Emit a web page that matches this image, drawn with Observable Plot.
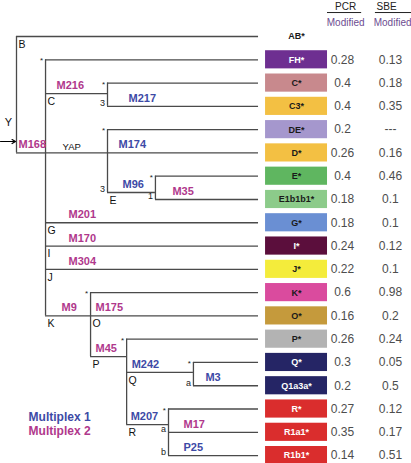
<!DOCTYPE html>
<html><head><meta charset="utf-8">
<script src="https://cdn.jsdelivr.net/npm/d3@7"></script>
<script src="https://cdn.jsdelivr.net/npm/@observablehq/plot@0.6"></script>
<style>html,body{margin:0;padding:0;background:#fff;}</style>
</head><body><div id="chart"></div>
<script>
// ---------------- DATA ----------------
const leafNames = ["AB*","FH*","C*","C3*","DE*","D*","E*","E1b1b1*","G*","I*","J*","K*","O*","P*","Q*","Q1a3a*","R*","R1a1*","R1b1*"];
const leafParent = ["Y","M168","C","C","YAP","YAP","E","E","M168","M168","M168","K","K","P","Q","Q","R","R","R"];
const leafColors = [null,"#6e2f91","#c8898d","#f3c043","#a597cd","#f3c043","#5fb660","#8ccb8a","#6a8fd3","#5b0e3c","#f4ec3b","#da4b9e","#c59a3c","#b3b3b3","#252565","#252565","#da2d2d","#da2d2d","#da2d2d"];
const whiteTextLeaves = ["FH*","I*","Q*","Q1a3a*","R*","R1a1*","R1b1*"];
const pcrValues = [null,0.28,0.4,0.4,0.2,0.26,0.4,0.18,0.18,0.24,0.22,0.6,0.16,0.26,0.3,0.2,0.27,0.35,0.14];
const sbeValues = [null,0.13,0.18,0.35,"---",0.16,0.46,0.1,0.1,0.12,0.1,0.98,0.2,0.24,0.05,0.5,0.12,0.17,0.51];

// internal nodes of the tree (depth in branch units, leaf tips at 10; row = vertical slot)
const nodeNames = ["Y","M168","C","YAP","E","K","P","Q","R"];
const nodeParent = [null,"Y","M168","M168","YAP","M168","K","P","P"];
const nodeDepth = [0,1.2,3.76,3.76,5.74,3.06,4.55,7.31,6.28];
const nodeRow = [2.5,5,2.45,5,6.7,12,13.75,14.43,16.67];

// markers on branches (target = node/leaf at branch end), multiplex 1 / 2 (0 = black)
const markerTargets = ["M168","C","C3*","YAP","D*","E","E1b1b1*","G*","I*","J*","K","O*","P","Q","Q1a3a*","R","R1a1*","R1b1*"];
const markerNames = ["M168","M216","M217","YAP","M174","M96","M35","M201","M170","M304","M9","M175","M45","M242","M3","M207","M17","P25"];
const markerPlex = [2,2,1,0,1,1,2,2,2,2,2,2,2,1,1,1,2,1];

// clade letters below branches
const cladeTargets = ["AB*","C","E","G*","I*","J*","K","O*","P","Q","R"];
const cladeLetters = ["B","C","E","G","I","J","K","O","P","Q","R"];

// small notes at branch starts
const noteTargets = ["FH*","C*","C3*","DE*","E","E*","E1b1b1*","K*","P*","Q*","Q1a3a*","R*","R1a1*","R1b1*"];
const noteTexts = ["*","*","3","*","3","*","1","*","*","*","a","*","a","b"];

const headerNames = ["PCR","SBE"];
const headerSub = ["Modified","Modified"];
const legendLabels = ["Multiplex 1","Multiplex 2"];

// ---------------- LAYOUT ----------------
const TIP = 10;
const PX = 24.2; // px per branch unit
const u = px => px / PX;
const BOX_X1 = 10.29, BOX_X2 = 12.85, BOX_CX = 11.57;
const PCR_X = 13.47, SBE_X = 15.45;
const markerDx = {M168:2,M216:11,M217:21,YAP:17,M174:11,M96:15,M35:17,M201:23,M170:23,M304:23,M9:16,M175:5,M45:5,M242:5,M3:12,M207:4,M17:15,P25:15};
const plexColor = ["#111","#3d4aa6","#b0388c"];
const lineColor = "#4a4a4a";

const pos = new Map();
leafNames.forEach((n,i)=>pos.set(n,{x:TIP,row:i}));
nodeNames.forEach((n,i)=>pos.set(n,{x:nodeDepth[i],row:nodeRow[i]}));
const parentOf = new Map([...leafNames.map((n,i)=>[n,leafParent[i]]),...nodeNames.map((n,i)=>[n,nodeParent[i]])]);

const horiz = [...parentOf].filter(([c,p])=>p).map(([c,p])=>({x1:pos.get(p).x,x2:pos.get(c).x,y:pos.get(c).row}));
const verts = nodeNames.map(n=>{
  const kids=[...parentOf].filter(([c,p])=>p===n).map(([c])=>pos.get(c).row);
  return {x:pos.get(n).x,y1:d3.min(kids),y2:d3.max(kids)};
});
const leaves = leafNames.map((n,i)=>({name:n,row:i,color:leafColors[i],pcr:pcrValues[i],sbe:sbeValues[i],
  text: whiteTextLeaves.includes(n)?"#ffffff":"#1a1a1a"}));
const markers = markerTargets.map((t,i)=>({x:pos.get(parentOf.get(t)).x+u(markerDx[markerNames[i]]),y:pos.get(t).row,
  name:markerNames[i],plex:markerPlex[i],color:plexColor[markerPlex[i]]}));
const clades = cladeTargets.map((t,i)=>({x:pos.get(parentOf.get(t)).x+u(2),y:pos.get(t).row,name:cladeLetters[i]}));
const notes = noteTargets.map((t,i)=>({x:pos.get(parentOf.get(t)).x-u(2.5),y:pos.get(t).row,text:noteTexts[i]}));
const stars = notes.filter(d=>d.text==="*"), noteChars = notes.filter(d=>d.text!=="*");
const headers = headerNames.map((h,i)=>({name:h,sub:headerSub[i],x:[13.6,15.29][i],xs:[13.6,15.54][i],x1:[12.85,14.83][i],x2:[14.26,16.32][i]}));
const legend = legendLabels.map((l,i)=>({label:l,row:16.37+i*0.56,color:plexColor[i+1]}));

const chart = Plot.plot({
  width:411,height:463,margin:0,
  style:{fontFamily:"Arial, 'Liberation Sans', sans-serif",background:"#fff"},
  x:{domain:[-0.661,16.32],axis:null},
  y:{domain:[-1.547,18.34],reverse:true,axis:null},
  color:{type:"identity"},
  marks:[
    Plot.ruleY(horiz,{y:"y",x1:"x1",x2:"x2",stroke:lineColor,strokeWidth:1.3}),
    Plot.ruleX(verts,{x:"x",y1:"y1",y2:"y2",stroke:lineColor,strokeWidth:1.3}),
    Plot.arrow([0],{x1:-0.66,x2:-0.04,y1:4.51,y2:4.51,stroke:"#000",strokeWidth:1.2,headLength:5}),
    Plot.text(["Y"],{x:-0.33,y:3.69,text:d=>d,fontSize:11,fill:"#111"}),
    Plot.rect(leaves.filter(d=>d.color),{x1:()=>BOX_X1,x2:()=>BOX_X2,y1:d=>d.row-0.39,y2:d=>d.row+0.39,fill:"color"}),
    Plot.text(leaves,{x:()=>BOX_CX,y:"row",text:"name",fill:"text",fontSize:9,fontWeight:"bold"}),
    Plot.text(leaves.filter(d=>d.pcr!=null),{x:()=>PCR_X,y:"row",text:d=>String(d.pcr),fill:"#4d4d4d",fontSize:12}),
    Plot.text(leaves.filter(d=>d.sbe!=null),{x:()=>SBE_X,y:"row",text:d=>String(d.sbe),fill:"#4d4d4d",fontSize:12}),
    Plot.text(markers.filter(d=>d.plex>0),{x:"x",y:"y",text:"name",fill:"color",fontSize:11,fontWeight:"bold",textAnchor:"start",dy:-8}),
    Plot.text(markers.filter(d=>d.plex===0),{x:"x",y:"y",text:"name",fill:"color",fontSize:9.5,textAnchor:"start",dy:-6}),
    Plot.text(clades,{x:"x",y:"y",text:"name",fill:"#111",fontSize:10.5,textAnchor:"start",dy:8}),
    Plot.text(stars,{x:"x",y:"y",text:"text",fill:"#222",fontSize:8,textAnchor:"end",dy:1}),
    Plot.text(noteChars,{x:"x",y:"y",text:"text",fill:"#222",fontSize:9,textAnchor:"end",dy:-3}),
    Plot.text(headers,{x:"x",y:()=>-1.29,text:"name",fill:"#222",fontSize:10}),
    Plot.ruleY(headers,{y:()=>-1.03,x1:"x1",x2:"x2",stroke:"#222",strokeWidth:1}),
    Plot.text(headers,{x:"xs",y:()=>-0.6,text:"sub",fill:"#6d4c91",fontSize:10}),
    Plot.text(legend,{x:()=>0.5,y:"row",text:"label",fill:"color",fontSize:12,fontWeight:"bold",textAnchor:"start"})
  ]
});
document.getElementById("chart").appendChild(chart);
</script>
</body></html>
